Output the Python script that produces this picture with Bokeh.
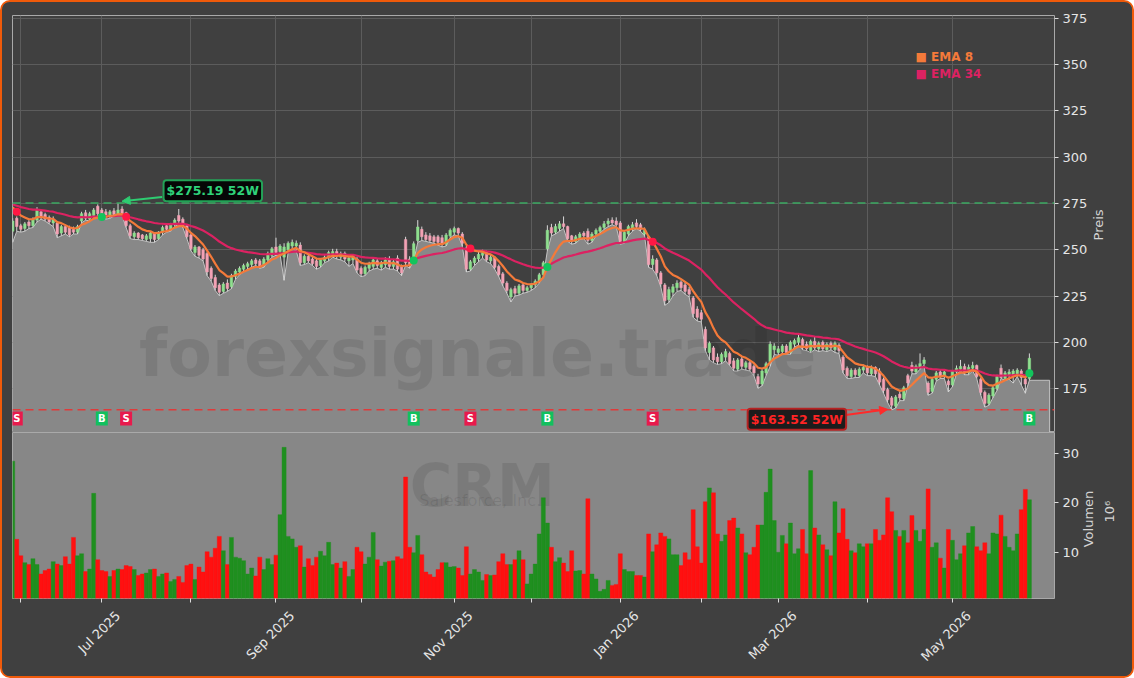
from bokeh.plotting import figure
from bokeh.models import (Range1d, FixedTicker, Span, Label, LinearAxis,
                          Arrow, NormalHead)
from bokeh.layouts import column
from bokeh.embed import file_html
from bokeh.resources import INLINE
from bokeh.core.properties import value
import math

# ---------------- data ----------------
open_ = [260, 267, 263, 261.5, 265, 263, 266, 270.5, 269, 267.5, 264.5, 264.5, 259, 262.5, 262, 261, 259.5, 265.5, 270, 266.5,
         268.5, 273.5, 271.5, 270.5, 268, 271, 269, 272, 270, 263, 257, 259, 258, 255.5, 256, 259, 256, 259.5, 263, 261,
         263.5, 268.5, 266.5, 263, 258, 248.5, 251.5, 250, 248, 240, 235, 231, 227.5, 232, 230, 235.5, 238, 239.5, 241, 242,
         244.5, 244, 241.5, 244.5, 247, 251.5, 249, 246, 250, 252, 252, 252.5, 243, 246.5, 245, 244, 241.5, 244, 245.5, 247.5,
         249, 246, 248, 244, 244.5, 245, 240, 237, 240, 241, 244, 240.5, 242, 244.5, 241, 245.5, 241, 255.5, 245, 245,
         255, 261, 258, 257.5, 257, 257, 256.5, 253, 257.5, 259.5, 261.5, 258.5, 251, 239.5, 243, 245, 247, 248.5, 244, 246,
         241, 237, 232, 224.5, 229, 226.5, 231, 228, 229.5, 231, 233, 236.5, 250.5, 262, 259.5, 261.5, 264, 262.5, 257.5, 254.5,
         256.5, 259, 260, 255, 258.5, 260, 262, 264, 266, 265.5, 264.5, 254.5, 258.5, 261, 264.5, 263.5, 258.5, 257, 242, 244.5,
         237.5, 231, 223, 227, 229.5, 232.5, 231, 228.5, 224, 218, 216, 207, 194.5, 197, 192, 189.5, 192, 194, 190, 185.5,
         191, 186.5, 189, 187, 181.5, 177.5, 183.5, 189.5, 196, 194.5, 195, 198, 194.5, 199, 200, 201.5, 199, 195.5, 200.5, 196.5,
         200, 196, 199.5, 196, 198.5, 192, 186, 181.5, 185, 182, 185, 186.5, 183, 186.5, 184.5, 180, 174.5, 170, 165.5, 172,
         169.5, 182, 187.5, 184, 186.5, 188.5, 178, 173.5, 180, 184, 181.5, 179, 177, 184, 185.5, 187, 183.5, 186, 187.5, 180,
         173, 167, 171, 175, 186, 180.5, 182.5, 182, 182.5, 184.5, 180, 180.5]
high = [267, 268, 264, 265, 266, 267.5, 273, 271.5, 270, 268.5, 268, 265.5, 263.5, 263.5, 263, 262.5, 263.5, 270.5, 271.5, 270.5,
        272.5, 274.5, 272.5, 272, 271.5, 272.5, 275.19, 273.5, 270.5, 264, 260, 259.5, 258.5, 258.5, 260, 259.5, 260, 263, 264, 264.5,
        267, 272, 267.5, 263.5, 258.5, 252.5, 252, 251, 249, 241, 236.5, 232, 232.5, 234, 237, 239.5, 241, 242.5, 243.5, 245,
        245.5, 245, 246, 249, 251.5, 256.5, 253, 253.5, 254.5, 255.5, 255, 254, 247.5, 247.5, 246, 245, 245.5, 247, 249.5, 250.5,
        250.5, 249, 249, 246.5, 247.5, 246, 241, 241.5, 243.5, 246, 245.5, 244, 246, 246.5, 245, 247, 242, 257, 246.5, 254.5,
        266, 262.5, 259.5, 259, 258, 258, 258, 259, 261.5, 262.5, 262, 259.5, 252, 244.5, 246.5, 249, 250, 249.5, 247.5, 246.5,
        242, 238, 233, 229.5, 230.5, 231.5, 232, 230.5, 232, 234, 237.5, 244, 263.2, 264, 264, 265.5, 268, 263, 258, 258,
        259.5, 260, 261.5, 259.5, 261.5, 263, 265.5, 267, 267.5, 267.5, 265.5, 260.5, 263.5, 265, 266.5, 264.5, 262, 258, 247, 245.5,
        238.5, 232, 230, 231.5, 233.5, 233.5, 232.5, 230, 225, 219.5, 217.5, 208.5, 200.5, 198, 194, 194.5, 196.5, 195, 191.5, 191.5,
        192.5, 190, 190, 188, 183, 185.5, 189.5, 200.5, 199.5, 198, 199, 199, 201, 202, 204, 202.5, 200.5, 201.5, 203, 200.5,
        201, 200, 200.5, 200.5, 199.5, 193, 187, 186, 186, 186.5, 188, 187.5, 187.5, 187, 186, 181, 175.5, 171, 171.5, 173.5,
        176.5, 183, 189.5, 188, 194, 192, 179, 181, 184.5, 185, 185, 180, 185, 187.5, 190.5, 188.5, 188, 189.5, 188, 181,
        174, 172.5, 176.5, 182.5, 188, 184.5, 185.5, 185.5, 186, 185.5, 181.5, 194]
low = [254, 260, 259.5, 260, 261.5, 262, 265, 266.5, 265.5, 264, 262.5, 256.5, 257.5, 258.5, 257, 258.5, 258.5, 264.5, 266, 265.5,
       267, 268.5, 267.5, 266.5, 267, 268, 268.5, 268.5, 262, 256, 255.5, 255.5, 255, 254.5, 254, 254, 255.5, 258, 259.5, 260,
       262.5, 264, 262, 256, 249.5, 246.5, 245.5, 244, 236, 233, 228, 225.2, 226.5, 227.5, 229, 234, 236.5, 238, 239.5, 240.5,
       241.5, 240, 240.5, 243.5, 246, 247, 247.5, 233.5, 248.5, 250.5, 249.5, 241.5, 242, 243, 241.5, 239.5, 240.5, 243, 244, 246,
       245, 244.5, 243.5, 241, 242.5, 237.5, 235.5, 236, 238.5, 239.5, 240, 239, 240.5, 239.5, 239.5, 238.5, 236, 241.5, 240, 244,
       254, 255, 254.5, 254, 253.5, 252.5, 251.5, 252, 256.5, 258, 257.5, 252, 238, 238.5, 241.5, 243.5, 245.5, 243.5, 242.5, 239.5,
       235.5, 230.5, 226.5, 221.8, 225, 225.5, 226.5, 227, 228, 229.5, 232, 235.5, 249.5, 257.5, 258.5, 260, 261.5, 254.5, 253, 253.5,
       255.5, 256, 253, 254, 257.5, 259, 261, 262.5, 263.5, 262.5, 253, 253.5, 257.5, 260, 261.5, 260, 257.5, 240.5, 239.5, 236,
       230, 220, 221.5, 225, 227.5, 228, 226, 224.5, 213.5, 211.5, 211, 195.5, 190.5, 189, 188, 188.5, 190, 187.5, 184.5, 184.5,
       185.5, 185, 184.5, 182, 175.2, 176.5, 182, 187, 193.5, 193, 194, 193.5, 193.5, 197.5, 198.5, 196, 195.5, 194.5, 196, 195,
       195.5, 195, 196, 194.5, 194, 183.5, 180.5, 180.5, 181, 181, 183.5, 182, 182, 181.5, 177, 172.5, 167.5, 163.52, 164.5, 168.5,
       168.5, 176.5, 183, 183, 185.5, 187.5, 171.4, 172.5, 179, 180.5, 180.5, 173.2, 176, 183, 184.5, 182.5, 182.5, 184.5, 180.5, 171.5,
       165, 166, 170, 174, 180.5, 179.5, 180, 178, 181.5, 177, 172.5, 179.5]
close = [265.5, 262.5, 261, 264, 263, 266.5, 271.5, 267.5, 266.5, 265, 266.5, 258.5, 262.5, 259.5, 258, 259.5, 262.5, 269.5, 267, 269.5,
         271.5, 269.5, 268.5, 268, 270.5, 269, 271.5, 269.5, 263, 257.5, 259, 256.5, 256, 257.5, 259, 255.5, 259.5, 262, 261, 263.5,
         266, 265.5, 263, 257, 250.5, 251.5, 247, 245, 238, 234.5, 229.5, 227, 231.5, 229, 236, 238.5, 240, 241.5, 242.5, 244,
         242.5, 241, 245, 248, 250.5, 248.5, 252, 251.5, 253.5, 254, 253.5, 243, 246.5, 244, 242.5, 241, 244.5, 246, 248.5, 249,
         246.5, 248, 245, 245.5, 246.5, 239, 237, 240.5, 242.5, 244.5, 241.5, 243, 244.5, 241, 243.5, 239.5, 237.5, 243, 242, 253.3,
         262.3, 257, 255.5, 255, 254.5, 254, 253, 258, 260.5, 261.5, 259, 253.5, 239.5, 243.5, 245.5, 247.5, 248.5, 244.5, 246, 240.5,
         236.5, 232, 228, 228.5, 226.5, 230.5, 228, 229.5, 231, 233, 236.5, 243, 260.5, 259, 262.5, 264, 262.5, 256, 254.5, 257,
         258.5, 257.5, 255, 258.5, 260.5, 262, 264, 265.5, 264.5, 263.5, 254.5, 259.5, 262.5, 263.5, 262.5, 261, 260.5, 242, 245, 237.5,
         231.5, 222.5, 228.5, 230, 232, 229.5, 227.5, 226, 215.5, 213.5, 212.5, 197, 199.5, 190.5, 189.5, 193.5, 195, 188.5, 186, 190.5,
         187, 189, 185.5, 183.5, 177.5, 184.5, 188.5, 199, 198, 196.5, 198, 194.5, 200, 201, 202.5, 197, 196.5, 200.5, 197, 199.5,
         196.5, 199, 197, 199.5, 195.5, 185, 182, 185, 182.5, 185.5, 186.5, 183.5, 186, 183, 178.5, 174, 169, 166, 170.5, 170,
         175.5, 178, 184.5, 187, 188.5, 190.5, 173, 180, 183.5, 181.5, 184, 177, 184.5, 186, 187, 183.5, 186.5, 187.5, 181.5, 173,
         167, 171.5, 175.5, 181.5, 181, 183.5, 184, 184.5, 185, 181, 177.5, 191.4]
volume_mn = [28.4, 12.6, 9.3, 7.9, 7.5, 8.7, 7.5, 5.6, 6.3, 6.6, 8.1, 7.6, 7.3, 9.1, 7.6, 13.0, 9.3, 9.7, 6.1, 6.6,
             21.9, 8.5, 6.3, 6.1, 5.1, 6.3, 6.6, 6.5, 7.3, 7.1, 6.5, 5.3, 5.6, 5.8, 6.5, 6.6, 5.1, 5.6, 5.8, 4.1,
             4.5, 5.1, 3.9, 7.3, 7.6, 4.5, 7.0, 6.0, 10.1, 9.0, 10.8, 13.2, 10.3, 7.5, 13.0, 9.0, 8.8, 8.3, 5.6, 6.8,
             5.2, 9.0, 6.5, 8.7, 7.5, 9.4, 17.6, 31.2, 13.2, 12.7, 11.0, 11.3, 7.0, 8.7, 7.3, 9.0, 10.2, 9.3, 12.0, 7.5,
             7.8, 6.8, 8.1, 5.1, 6.5, 11.0, 10.1, 7.6, 9.0, 14.0, 8.5, 7.2, 8.0, 8.2, 8.3, 9.1, 8.7, 25.2, 11.0, 9.9,
             13.4, 9.5, 6.0, 5.5, 5.0, 6.5, 7.9, 7.9, 7.0, 7.1, 6.8, 5.3, 11.1, 5.6, 6.5, 6.0, 4.3, 5.5, 5.3, 5.4,
             8.1, 9.7, 7.5, 7.5, 8.5, 10.3, 8.5, 3.6, 5.6, 7.6, 13.7, 21.0, 15.9, 11.0, 8.1, 8.9, 7.8, 6.1, 10.3, 6.2,
             6.3, 5.6, 20.8, 5.6, 4.6, 2.1, 2.5, 4.3, 3.3, 3.5, 9.7, 6.5, 6.1, 6.1, 5.3, 5.3, 5.0, 13.7, 10.1, 11.5,
             13.9, 13.2, 12.7, 9.5, 9.5, 7.3, 9.9, 8.5, 18.6, 11.1, 7.8, 20.2, 23.0, 22.0, 13.7, 12.2, 13.5, 16.4, 16.9, 14.9,
             13.7, 9.9, 9.5, 11.0, 15.5, 15.5, 22.1, 26.8, 16.4, 10.0, 13.4, 11.7, 15.9, 9.7, 10.7, 14.6, 9.7, 26.5, 14.9, 13.5,
             11.5, 10.5, 9.3, 20.2, 13.9, 18.8, 12.6, 10.3, 9.9, 11.7, 11.1, 11.7, 11.7, 14.6, 12.4, 13.5, 21.0, 18.2, 14.4, 13.2,
             14.4, 11.9, 17.4, 14.4, 12.2, 14.6, 22.8, 11.0, 11.9, 8.8, 6.8, 14.6, 12.4, 8.5, 9.7, 11.3, 13.9, 15.2, 11.1, 10.3,
             11.9, 9.7, 13.9, 13.7, 17.5, 13.2, 11.0, 10.3, 13.7, 18.6, 22.7, 20.6]

month_ticks = [2, 22, 44, 65, 86, 109, 128, 150, 170, 189, 211, 232]
month_labels = ["", "Jul 2025", "", "Sep 2025", "", "Nov 2025", "", "Jan 2026", "", "Mar 2026", "", "May 2026"]
price_ticks = [175, 200, 225, 250, 275, 300, 325, 350, 375]
volume_ticks = [10, 20, 30]
buy_idx = [22, 99, 132, 251]
sell_idx = [1, 28, 113, 158]
ema_fast, ema_slow = 8, 34
ema_start = 275.0
symbol = "CRM"
company = "Salesforce, Inc."
watermark = "forexsignale.trade"
price_title = "Preis"
volume_title = "Volumen"
volume_scale = "10\u2076"

# ---------------- derived ----------------
def ema(vals, span, start):
    a = 2.0 / (span + 1)
    out, e = [], start
    for v in vals:
        e = a * v + (1 - a) * e
        out.append(e)
    return out

n = len(close)
idx = list(range(n))
ema8 = ema(close, ema_fast, ema_start)
ema34 = ema(close, ema_slow, ema_start)
is_up = [c >= o for o, c in zip(open_, close)]
body_top = [max(o, c) for o, c in zip(open_, close)]
body_bot = [min(o, c) for o, c in zip(open_, close)]
hi52 = max(high)
lo52 = min(low)
hi_i = high.index(hi52)
lo_i = low.index(lo52)

BG = "#404040"
FONT = "DejaVu Sans"
TXT = "#e6e6e6"
LBL = "#d4d4d4"
UP_C, DN_C = "#8fe08f", "#f3a2b5"
VUP, VDN = "#1f8f1f", "#ff1010"
ORANGE, CRIMSON = "#f47a3a", "#dc2262"

xr = Range1d(-0.05, 257.2)


def style_axis(ax):
    ax.axis_line_color = None
    ax.major_tick_out = 4
    ax.major_tick_in = 0
    ax.minor_tick_line_color = None
    ax.major_tick_line_color = "#dddddd"
    ax.major_label_text_color = TXT
    ax.major_label_text_font = FONT
    ax.major_label_text_font_size = "13px"
    ax.major_label_standoff = 4


def title_axis(pos, text, standoff):
    # an extra tick-less axis whose single rotated tick label serves as a vertical axis title
    ax = LinearAxis(ticker=FixedTicker(ticks=[pos]), major_label_overrides={pos: text})
    style_axis(ax)
    ax.major_tick_out = 0
    ax.major_tick_line_color = None
    ax.major_label_orientation = math.pi / 2
    ax.major_label_standoff = standoff
    ax.major_label_text_color = LBL
    return ax


# ---------------- price panel ----------------
p1 = figure(width=1130, height=430, x_range=xr, y_range=Range1d(151.3, 376.5),
            x_axis_location=None, y_axis_location="right",
            output_backend="svg", toolbar_location=None,
            min_border_left=10, min_border_right=78, min_border_top=13, min_border_bottom=0,
            background_fill_color=BG, border_fill_color=BG,
            outline_line_color="#a9a9a9", outline_line_width=1)
p1.yaxis.ticker = FixedTicker(ticks=price_ticks)
p1.xgrid.ticker = FixedTicker(ticks=month_ticks)
p1.xgrid.grid_line_color = "#5c5c5c"
p1.ygrid.grid_line_color = "#5c5c5c"
for ax in p1.yaxis:
    style_axis(ax)
p1.add_layout(title_axis(255, price_title, 8), "right")

# low-price area (extends a few bars to the right at the last low)
ext = 5
area_x = idx + [idx[-1] + ext]
area_y = low + [low[-1]]
p1.varea(x=area_x, y1=0, y2=area_y, fill_color="#888888")
p1.line(area_x + [area_x[-1]], area_y + [0], line_color="#c4c4c4", line_width=1)

# watermark
p1.text(x=[114.8], y=[193.9], text=[watermark], text_font=value(FONT), text_font_style="bold",
        text_font_size="65px", text_color="black", text_alpha=0.09,
        text_align="center", text_baseline="alphabetic")

# 52W lines
p1.add_layout(Span(location=hi52, dimension="width", line_color="#3aa860", line_width=1.5, line_dash="8 5"))
p1.add_layout(Span(location=lo52, dimension="width", line_color="#e03a3a", line_width=1.5, line_dash="8 5"))

# candles
p1.segment(x0=idx, y0=high, x1=idx, y1=low, line_color="#d8d8d8", line_width=1)
cc = [UP_C if u else DN_C for u in is_up]
p1.vbar(x=idx, width=0.62, top=body_top, bottom=body_bot, fill_color=cc, line_color=cc, line_width=0.5)

# EMAs
p1.line(idx, ema34, line_color=CRIMSON, line_width=2.2)
p1.line(idx, ema8, line_color=ORANGE, line_width=2.2)

# crossover dots
p1.scatter(sell_idx, [ema8[i] for i in sell_idx], size=8, fill_color="#ff1744", line_color=None)
p1.scatter(buy_idx, [ema8[i] for i in buy_idx], size=8, fill_color="#12c45c", line_color=None)

# signal boxes
sig_y = 158.8
p1.rect(x=sell_idx, y=[sig_y] * len(sell_idx), width=12, height=14, width_units="screen",
        height_units="screen", fill_color="#e81a4c", line_color=None)
p1.rect(x=buy_idx, y=[sig_y] * len(buy_idx), width=12, height=14, width_units="screen",
        height_units="screen", fill_color="#12c05e", line_color=None)
p1.text(x=sell_idx, y=[sig_y] * len(sell_idx), text=["S"] * len(sell_idx), text_color="white",
        text_font=value(FONT), text_font_style="bold", text_font_size="10px",
        text_align="center", text_baseline="middle")
p1.text(x=buy_idx, y=[sig_y] * len(buy_idx), text=["B"] * len(buy_idx), text_color="white",
        text_font=value(FONT), text_font_style="bold", text_font_size="10px",
        text_align="center", text_baseline="middle")

# 52W labels and arrows
p1.add_layout(Arrow(end=NormalHead(size=8, fill_color="#2ecc71", line_color="#2ecc71"),
                    x_start=36.9, y_start=278.5, x_end=hi_i + 1, y_end=276.2,
                    line_color="#2ecc71", line_width=2))
p1.add_layout(Label(x=49.4, y=281.8, text=f"${hi52:.2f} 52W", text_align="center", text_baseline="middle",
                    text_color="#2fd27a", text_font=FONT, text_font_style="bold", text_font_size="12.5px",
                    background_fill_color="#060606", border_line_color="#23a257", border_line_width=2,
                    padding=3, border_radius=3))
p1.add_layout(Arrow(end=NormalHead(size=8, fill_color="#ff2a2a", line_color="#ff2a2a"),
                    x_start=205.2, y_start=160.6, x_end=lo_i - 1, y_end=163.8,
                    line_color="#ff2a2a", line_width=2))
p1.add_layout(Label(x=193.6, y=158.4, text=f"${lo52:.2f} 52W", text_align="center", text_baseline="middle",
                    text_color="#ff2424", text_font=FONT, text_font_style="bold", text_font_size="12.5px",
                    background_fill_color="#1c1c1c", border_line_color="#b52222", border_line_width=2,
                    padding=3, border_radius=3))

# legend
p1.add_layout(Label(x=222.9, y=354.1, text=f"\u25a0 EMA {ema_fast}", text_color=ORANGE, text_font=FONT,
                    text_font_style="bold", text_font_size="12px", text_baseline="middle", text_align="left"))
p1.add_layout(Label(x=222.9, y=345.1, text=f"\u25a0 EMA {ema_slow}", text_color=CRIMSON, text_font=FONT,
                    text_font_style="bold", text_font_size="12px", text_baseline="middle", text_align="left"))

# ---------------- volume panel ----------------
p2 = figure(width=1130, height=244, x_range=xr, y_range=Range1d(0.65, 34.2),
            y_axis_location="right", output_backend="svg", toolbar_location=None,
            min_border_left=10, min_border_right=78, min_border_top=0, min_border_bottom=78,
            background_fill_color="#878787", border_fill_color=BG,
            outline_line_color="#a9a9a9", outline_line_width=1)
p2.grid.visible = False
p2.yaxis.ticker = FixedTicker(ticks=volume_ticks)
p2.xaxis.ticker = FixedTicker(ticks=month_ticks)
p2.xaxis.major_label_overrides = {t: "" for t in month_ticks}
for ax in list(p2.yaxis) + list(p2.xaxis):
    style_axis(ax)
for ax in p2.xaxis:
    ax.major_label_standoff = 0
p2.add_layout(title_axis(11, volume_title, 6), "right")
p2.add_layout(title_axis(16, volume_scale, 3), "right")

# month labels: a second, tick-less axis shifted so each rotated label is centred under its tick
lab_shift = 4
lab_axis = LinearAxis(ticker=FixedTicker(ticks=[t + lab_shift for t, l in zip(month_ticks, month_labels) if l]),
                      major_label_overrides={t + lab_shift: l for t, l in zip(month_ticks, month_labels) if l})
style_axis(lab_axis)
lab_axis.major_tick_out = 0
lab_axis.major_tick_line_color = None
lab_axis.major_label_orientation = math.pi / 4
lab_axis.major_label_standoff = 11
p2.add_layout(lab_axis, "below")

p2.text(x=[115.9], y=[23.47], text=[symbol], text_font=value(FONT), text_font_style="bold",
        text_font_size="58px", text_color="black", text_alpha=0.09,
        text_align="center", text_baseline="alphabetic")
p2.text(x=[115.4], y=[20.44], text=[company], text_font=value(FONT),
        text_font_size="16px", text_color="black", text_alpha=0.09,
        text_align="center", text_baseline="alphabetic")

vc = [VUP if u else VDN for u in is_up]
p2.vbar(x=idx, width=1.0, top=volume_mn, bottom=0, fill_color=vc, line_color=vc, line_width=0.4)

layout = column(p1, p2, spacing=0,
                styles={"border": "2px solid #f05a0a", "border-radius": "10px",
                        "background-color": BG, "overflow": "hidden"})

open("out.html", "w").write(file_html(layout, INLINE))
